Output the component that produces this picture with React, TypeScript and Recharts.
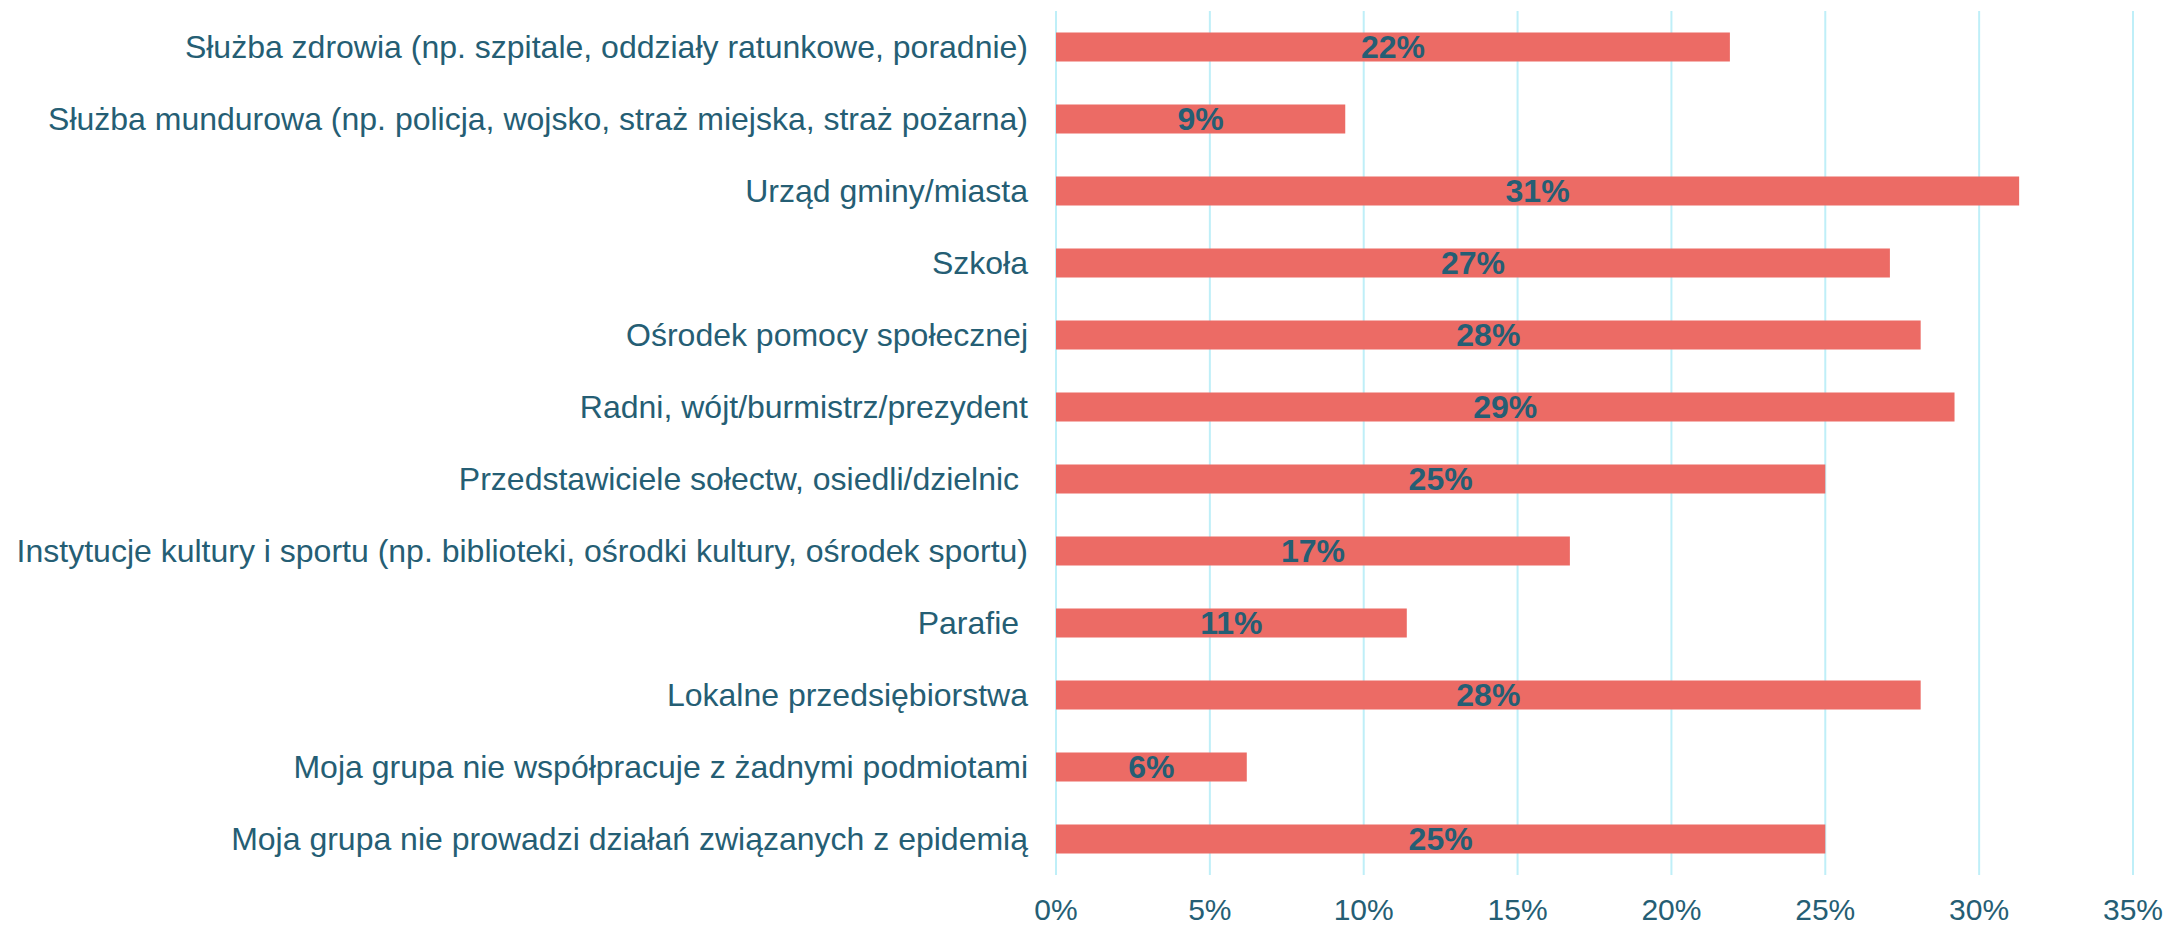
import { BarChart, Bar, XAxis, YAxis, CartesianGrid, LabelList } from "recharts";

const categories = [
  "Służba zdrowia (np. szpitale, oddziały ratunkowe, poradnie)",
  "Służba mundurowa (np. policja, wojsko, straż miejska, straż pożarna)",
  "Urząd gminy/miasta",
  "Szkoła",
  "Ośrodek pomocy społecznej",
  "Radni, wójt/burmistrz/prezydent",
  "Przedstawiciele sołectw, osiedli/dzielnic\u00a0",
  "Instytucje kultury i sportu (np. biblioteki, ośrodki kultury, ośrodek sportu)",
  "Parafie\u00a0",
  "Lokalne przedsiębiorstwa",
  "Moja grupa nie współpracuje z żadnymi podmiotami",
  "Moja grupa nie prowadzi działań związanych z epidemią",
];

const shares = [21.9, 9.4, 31.3, 27.1, 28.1, 29.2, 25.0, 16.7, 11.4, 28.1, 6.2, 25.0];

const xTicks = [0, 5, 10, 15, 20, 25, 30, 35];

const data = categories.map((name, i) => ({ name, value: shares[i] }));

const textColor = "#255E74";
const font = "'Liberation Sans', Arial, sans-serif";

export default function App() {
  return (
    <div style={{ position: "absolute", left: 0, top: 0, background: "#fff" }}>
      <BarChart
        width={2171}
        height={926}
        data={data}
        layout="vertical"
        margin={{ top: 11, right: 38, left: 0, bottom: 0 }}
        barCategoryGap="30%"
      >
        <CartesianGrid horizontal={false} stroke="#BFEFF8" strokeWidth={2} />
        <XAxis
          type="number"
          domain={[0, 35]}
          ticks={xTicks}
          tickFormatter={(v: number) => `${v}%`}
          axisLine={false}
          tickLine={false}
          tickSize={0}
          tickMargin={24}
          height={51}
          interval={0}
          tick={{ fill: textColor, fontSize: 30, fontFamily: font }}
        />
        <YAxis
          type="category"
          dataKey="name"
          width={1056}
          axisLine={false}
          tickLine={false}
          tickSize={0}
          tickMargin={28}
          interval={0}
          tick={{ fill: textColor, fontSize: 32, fontFamily: font }}
        />
        <Bar dataKey="value" fill="#EC6B65" isAnimationActive={false}>
          <LabelList
            dataKey="value"
            position="center"
            formatter={(v: number) => `${Math.round(v)}%`}
            fill={textColor}
            style={{ fontSize: 32, fontWeight: "bold", fontFamily: font }}
          />
        </Bar>
      </BarChart>
    </div>
  );
}
